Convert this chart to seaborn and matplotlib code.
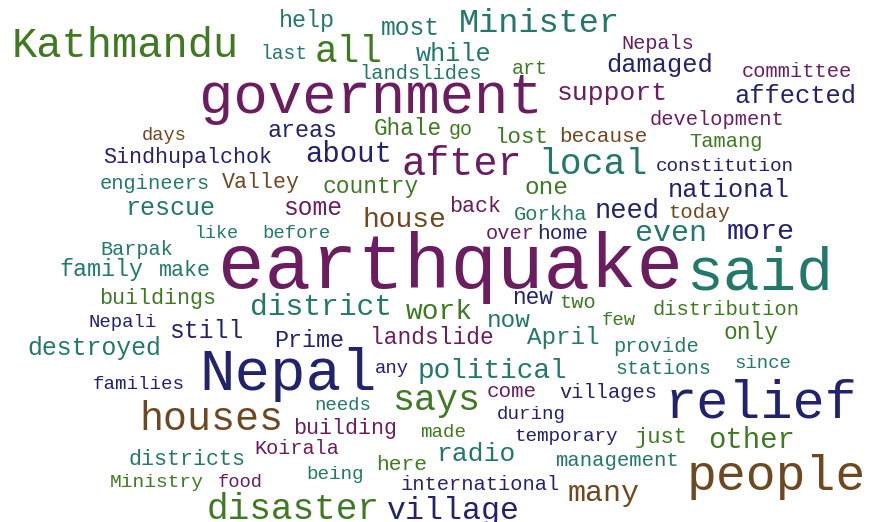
import pandas as pd
import matplotlib.pyplot as plt
import seaborn as sns


# word cloud content: words, their display weight (font size, pt) and colour group
WORDS = [
    "help", "last", "Kathmandu", "most", "Minister", "all", "while", "Nepals",
    "damaged", "committee", "landslides", "art", "government", "support",
    "affected", "days", "areas", "Ghale", "go", "lost", "because", "development",
    "Tamang", "Sindhupalchok", "about", "after", "local", "constitution",
    "engineers", "Valley", "country", "one", "national", "rescue", "some",
    "house", "back", "Gorkha", "need", "today", "like", "before", "over", "home",
    "even", "more", "Barpak", "earthquake", "said", "family", "make", "buildings",
    "district", "work", "new", "two", "distribution", "Nepali", "still", "Prime",
    "landslide", "now", "April", "few", "only", "destroyed", "provide",
    "stations", "since", "Nepal", "any", "political", "families", "come",
    "villages", "relief", "needs", "says", "during", "building", "made",
    "temporary", "just", "other", "houses", "Koirala", "radio", "here",
    "management", "districts", "being", "international", "Ministry", "food",
    "many", "people", "disaster", "village",
]

WEIGHTS = [
    16.8, 14.1, 30.3, 17.7, 24.2, 27.2, 18.2, 14.6,
    18.3, 14.7, 14.8, 14.4, 41.3, 19.0,
    18.4, 13.5, 16.8, 16.3, 14.4, 16.2, 15.1, 14.7,
    14.8, 15.7, 20.9, 29.0, 26.2, 13.9,
    14.7, 15.6, 16.5, 17.6, 18.3, 18.0, 17.7,
    20.2, 15.6, 14.8, 19.5, 14.9, 13.2, 13.6, 14.7, 15.3,
    21.6, 20.4, 14.6, 55.8, 44.1, 16.8, 15.6, 15.7,
    21.3, 20.1, 16.4, 14.8, 14.8, 13.6, 17.8, 16.8,
    16.5, 17.6, 17.5, 13.6, 16.5, 17.9, 14.7,
    14.4, 13.7, 42.7, 13.6, 20.0, 13.8, 15.0,
    14.7, 38.6, 13.7, 26.4, 13.8, 15.6, 13.8,
    13.9, 15.9, 20.9, 28.8, 14.6, 19.0, 15.3,
    14.9, 15.6, 13.9, 14.7, 14.0, 13.5,
    21.6, 35.8, 26.0, 22.8,
]

GROUPS = [
    "T", "T", "G", "T", "T", "G", "T", "P",
    "N", "P", "T", "G", "P", "P",
    "N", "B", "N", "G", "G", "G", "B", "P",
    "G", "N", "N", "P", "T", "N",
    "T", "B", "G", "G", "N", "T", "P",
    "B", "P", "T", "N", "B", "T", "T", "P", "N",
    "T", "N", "T", "P", "T", "T", "T", "G",
    "T", "G", "N", "G", "G", "N", "N", "N",
    "P", "T", "T", "G", "G", "T", "T",
    "T", "T", "N", "N", "T", "N", "P",
    "N", "N", "T", "G", "N", "P", "G",
    "N", "G", "G", "B", "P", "T", "G",
    "T", "T", "T", "N", "G", "P",
    "B", "B", "G", "N",
]

# layout: left edge and baseline of each word (pixels from top-left)
LAYOUT_X = [
    279, 260, 12, 381, 459, 315, 416, 621,
    606, 742, 359, 512, 199, 557,
    734, 142, 268, 374, 449, 494, 559, 650,
    689, 103, 305, 402, 538, 656,
    100, 222, 323, 525, 668, 125, 283,
    363, 449, 514, 595, 668, 195, 262, 486, 537,
    635, 727, 100, 218, 686, 59, 159, 99,
    250, 406, 512, 559, 653, 89, 169, 274,
    370, 487, 527, 602, 724, 27, 613,
    615, 734, 199, 375, 418, 93, 487,
    559, 665, 314, 392, 497, 293, 420,
    514, 635, 708, 139, 254, 437, 376,
    555, 128, 306, 401, 110, 218,
    568, 687, 207, 387,
]
LAYOUT_Y = [
    27, 59, 57, 35, 32, 62, 61, 49,
    72, 77, 79, 74, 113, 100,
    103, 140, 137, 135, 135, 143, 142, 125,
    147, 163, 162, 175, 174, 171,
    189, 188, 193, 194, 197, 215, 215,
    227, 212, 220, 218, 218, 238, 238, 239, 239,
    241, 239, 255, 288, 289, 276, 276, 304,
    315, 319, 304, 308, 315, 327, 338, 347,
    344, 327, 344, 325, 339, 355, 352,
    374, 368, 390, 373, 378, 389, 397,
    398, 418, 410, 410, 419, 434, 437,
    441, 443, 448, 430, 454, 461, 470,
    466, 465, 479, 490, 487, 487,
    501, 490, 519, 519,
]

PALETTE = {
    "P": "#6b1d5f",
    "N": "#22236f",
    "T": "#23786c",
    "G": "#3f7a22",
    "B": "#6e4820",
}

W, H = 870, 522


def main() -> None:
    sns.set_theme(style="white")
    plt.rcParams["font.family"] = ["Liberation Mono", "DejaVu Sans Mono"]

    cloud = pd.DataFrame({
        "word": WORDS,
        "weight": WEIGHTS,
        "group": GROUPS,
        "x": LAYOUT_X,
        "y": LAYOUT_Y,
    })
    assert len(cloud) == len(WORDS)

    fig = plt.figure(figsize=(W / 100, H / 100), dpi=100)
    ax = fig.add_axes([0, 0, 1, 1])
    ax.set_xlim(0, W)
    ax.set_ylim(H, 0)
    ax.axis("off")

    for row in cloud.itertuples():
        ax.text(
            row.x, row.y, row.word,
            fontsize=row.weight,
            color=PALETTE[row.group],
            ha="left", va="baseline",
        )

    fig.savefig("out.png", dpi=100, facecolor="white")
    plt.close(fig)


if __name__ == "__main__":
    main()
